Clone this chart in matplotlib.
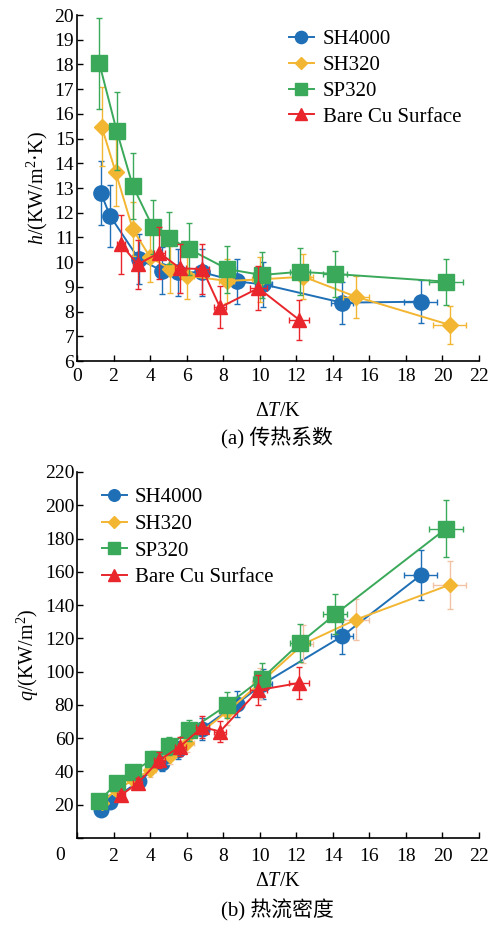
import matplotlib
matplotlib.use("Agg")
import matplotlib.pyplot as plt

plt.rcParams['font.family'] = ['Liberation Serif', 'Noto Sans CJK SC']
plt.rcParams['mathtext.fontset'] = 'custom'
plt.rcParams['mathtext.rm'] = 'Liberation Serif'
plt.rcParams['mathtext.it'] = 'Liberation Serif:italic'

# ---------------- data ----------------
labels = ["SH4000", "SH320", "SP320", "Bare Cu Surface"]

# SH4000
dt_sh4000 = [1.31, 1.81, 3.39, 4.67, 5.51, 6.86, 8.74, 10.2, 14.5, 18.8]
h_sh4000 = [12.79, 11.87, 10.12, 9.65, 9.59, 9.59, 9.22, 9.10, 8.36, 8.40]
herr_sh4000 = [1.3, 1.25, 1.0, 0.95, 0.95, 0.95, 0.9, 0.9, 0.85, 0.87]
q_sh4000 = [16.8, 21.5, 34.3, 45.0, 52.8, 65.8, 80.6, 92.8, 121.2, 157.9]
qerr_sh4000 = [1.7, 2.2, 3.4, 4.5, 5.3, 6.6, 8.0, 9.0, 10.5, 15.0]
dterr_sh4000 = [0.15, 0.2, 0.25, 0.3, 0.3, 0.35, 0.4, 0.45, 0.6, 0.9]

# SH320
dt_sh320 = [1.35, 2.12, 3.05, 4.0, 5.09, 6.04, 8.19, 10.0, 12.39, 15.27, 20.4]
h_sh320 = [15.48, 13.63, 11.34, 10.2, 9.72, 9.45, 9.24, 9.30, 9.41, 8.60, 7.46]
herr_sh320 = [1.6, 1.35, 1.1, 1.0, 0.95, 0.95, 0.9, 0.9, 0.9, 0.85, 0.77]
q_sh320 = [20.9, 28.9, 34.6, 40.8, 49.5, 57.1, 75.7, 93.0, 116.6, 131.3, 152.2]
qerr_sh320 = [2.1, 2.9, 3.5, 4.1, 5.0, 5.7, 7.5, 9.3, 11.5, 12.5, 14.6]
dterr_sh320 = [0.15, 0.2, 0.25, 0.3, 0.3, 0.35, 0.4, 0.45, 0.55, 0.7, 0.9]

# SP320
dt_sp320 = [1.22, 2.17, 3.05, 4.14, 5.05, 6.15, 8.23, 10.1, 12.2, 14.12, 20.2]
h_sp320 = [18.05, 15.32, 13.09, 11.43, 10.99, 10.52, 9.72, 9.48, 9.61, 9.52, 9.21]
herr_sp320 = [1.84, 1.58, 1.34, 1.1, 1.05, 1.05, 0.95, 0.95, 0.95, 0.95, 0.93]
q_sp320 = [22.0, 33.2, 39.9, 47.3, 55.5, 64.7, 80.0, 95.7, 117.2, 134.4, 186.0]
qerr_sp320 = [2.2, 3.3, 4.0, 4.7, 5.5, 6.5, 8.0, 9.5, 11.5, 12.0, 17.0]
dterr_sp320 = [0.15, 0.2, 0.25, 0.3, 0.3, 0.35, 0.4, 0.45, 0.55, 0.65, 0.95]

# Bare Cu Surface
dt_cu = [2.41, 3.32, 4.51, 5.64, 6.86, 7.83, 9.93, 12.17]
h_cu = [10.72, 9.91, 10.38, 9.75, 9.72, 8.17, 8.95, 7.66]
herr_cu = [1.2, 1.0, 1.05, 1.0, 1.0, 0.85, 0.9, 0.8]
q_cu = [25.8, 32.9, 46.8, 55.0, 66.7, 64.0, 88.9, 93.2]
qerr_cu = [2.6, 3.3, 4.7, 5.5, 6.7, 6.4, 8.9, 9.5]
dterr_cu = [0.2, 0.25, 0.3, 0.3, 0.35, 0.35, 0.45, 0.55]

h_yticks = list(range(6, 21))
q_yticks = list(range(0, 221, 20))
x_ticks = list(range(0, 23, 2))

# ---------------- style ----------------
c_blue = "#1f6fb6"
c_yellow = "#f3b632"
c_green = "#3aa95a"
c_red = "#e8262b"
c_peach = "#f2c2a4"

fig = plt.figure(figsize=(4.92, 9.27), dpi=100)
ax1 = fig.add_axes([77/492, 1-361/927, (479-77)/492, (361-15)/927])
ax2 = fig.add_axes([77/492, 1-838/927, (479-77)/492, (838-472)/927])

series = [
    (dt_sh4000, dterr_sh4000, h_sh4000, herr_sh4000, q_sh4000, qerr_sh4000, c_blue, c_blue, c_blue, 'o', 11),
    (dt_sh320, dterr_sh320, h_sh320, herr_sh320, q_sh320, qerr_sh320, c_yellow, c_yellow, c_peach, 'D', 8),
    (dt_sp320, dterr_sp320, h_sp320, herr_sp320, q_sp320, qerr_sp320, c_green, c_green, c_green, 's', 11.5),
    (dt_cu, dterr_cu, h_cu, herr_cu, q_cu, qerr_cu, c_red, c_red, c_red, '^', 10.5),
]

handles1 = []
handles2 = []
for i, (dt, dte, h, he, q, qe, col, ecol1, ecol2, mk, ms) in enumerate(series):
    eb1 = ax1.errorbar(dt, h, yerr=he, xerr=dte, fmt='-', marker=mk, color=col,
                       ecolor=ecol1, elinewidth=1.0, capsize=2, capthick=1.0,
                       lw=1.4, ms=ms, mec=col, zorder=2 + i)
    handles1.append(eb1[0])
    eb2 = ax2.errorbar(dt, q, yerr=qe, xerr=dte, fmt='-', marker=mk, color=col,
                       ecolor=ecol2, elinewidth=1.0, capsize=2, capthick=1.0,
                       lw=1.4, ms=ms * 0.95, mec=col, zorder=2 + i)
    handles2.append(eb2[0])

fs = 14
for ax in (ax1, ax2):
    ax.spines['top'].set_visible(False)
    ax.spines['right'].set_visible(False)
    ax.spines['left'].set_linewidth(1.2)
    ax.spines['bottom'].set_linewidth(1.2)
    ax.set_xlim(0, 22)
    ax.set_xticks(x_ticks)
    ax.tick_params(direction='in', length=4, width=1.0, labelsize=fs)

ax1.set_xlabel(r'Δ$T$/K', fontsize=14.5, labelpad=12)
ax2.set_xlabel(r'Δ$T$/K', fontsize=14.5, labelpad=5)

ax1.set_ylim(6, 20)
ax1.set_yticks(h_yticks)
ax1.set_ylabel(r'$h$/(KW/m$^2$·K)', fontsize=14.5, labelpad=3)
ax1.tick_params(axis='y', pad=2)
ax1.tick_params(axis='x', pad=5)

ax2.set_ylim(0, 220)
ax2.set_yticks(q_yticks)
ax2.set_yticklabels([''] + [str(v) for v in q_yticks[1:]])
ax2.set_xticklabels([''] + [str(v) for v in x_ticks[1:]])
ax2.set_ylabel(r'$q$/(KW/m$^2$)', fontsize=14.5, labelpad=3)
ax2.tick_params(axis='y', pad=2)
ax2.tick_params(axis='x', pad=7)
fig.text(60/492, 1-855/927, '0', fontsize=fs, ha='center', va='center')

leg1 = ax1.legend(handles1, labels, loc='upper left', bbox_to_anchor=(0.49, 1.0),
                  frameon=False, fontsize=15, handlelength=1.2, handletextpad=0.45,
                  labelspacing=0.3, markerscale=0.8, borderaxespad=0.3)
leg2 = ax2.legend(handles2, labels, loc='upper left', bbox_to_anchor=(0.025, 0.997),
                  frameon=False, fontsize=15, handlelength=1.2, handletextpad=0.4,
                  labelspacing=0.34, markerscale=0.8, borderaxespad=0.3)

fig.text(277/492, 1-438/927, '(a) 传热系数', fontsize=15, ha='center', va='center',
         family=['Liberation Serif', 'Noto Sans CJK SC'])
fig.text(277/492, 1-910/927, '(b) 热流密度', fontsize=15, ha='center', va='center',
         family=['Liberation Serif', 'Noto Sans CJK SC'])

fig.savefig('out.png', dpi=100)
